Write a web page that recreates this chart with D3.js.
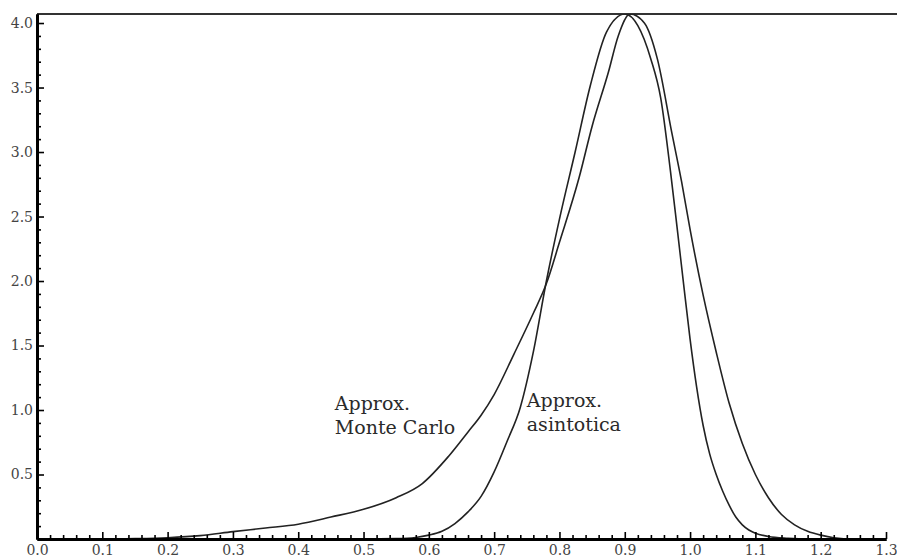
<!DOCTYPE html>
<html lang="en">
<head>
	<meta charset="UTF-8">
	<title>Approx. Monte Carlo vs asintotica</title>
	<style>
		body { margin: 0; background: #fff; }
		.Axis text {
			font-family: "DejaVu Serif", serif;
			font-size: 14px;
			fill: #444;
		}
		.Axis line { stroke: #000; stroke-width: 1.6; }
		.Axis path { stroke: #000; stroke-width: 3; }
		.lbl {
			font-family: "DejaVu Serif", serif;
			font-size: 19px;
			fill: #2a2a2a;
		}
	</style>
	<script src="https://d3js.org/d3.v7.min.js"></script>
</head>
<body>
	<script type="text/javascript">

		// tick labels
		var xTicks = [0.0, 0.1, 0.2, 0.3, 0.4, 0.5, 0.6, 0.7, 0.8, 0.9, 1.0, 1.1, 1.2, 1.3];
		var yTicks = [0.5, 1.0, 1.5, 2.0, 2.5, 3.0, 3.5, 4.0];

		// Approx. Monte Carlo
		var mcX = [0.00, 0.10, 0.15, 0.20, 0.25, 0.30, 0.35, 0.40, 0.45, 0.50, 0.55, 0.59, 0.63, 0.66, 0.68, 0.70, 0.73, 0.76, 0.78,
				   0.80, 0.83, 0.85, 0.875, 0.89, 0.908, 0.93, 0.95, 0.972, 0.987, 1.00, 1.02, 1.04, 1.06, 1.08, 1.10, 1.12, 1.14,
				   1.16, 1.18, 1.20, 1.22, 1.25, 1.30];
		var mcY = [0, 0, 0.003, 0.01, 0.026, 0.057, 0.085, 0.115, 0.17, 0.23, 0.32, 0.43, 0.64, 0.83, 0.96, 1.12, 1.43, 1.75, 1.98,
				   2.3, 2.8, 3.2, 3.62, 3.9, 4.07, 4.0, 3.72, 3.15, 2.77, 2.4, 1.89, 1.45, 1.05, 0.74, 0.5, 0.32, 0.19,
				   0.11, 0.06, 0.03, 0.01, 0, 0];

		// Approx. asintotica
		var asX = [0.00, 0.50, 0.55, 0.58, 0.60, 0.62, 0.64, 0.66, 0.68, 0.70, 0.72, 0.74, 0.76, 0.78, 0.80, 0.824, 0.847, 0.872,
				   0.90, 0.92, 0.94, 0.955, 0.97, 0.98, 0.99, 1.00, 1.01, 1.02, 1.03, 1.04, 1.05, 1.06, 1.07, 1.08, 1.09, 1.10,
				   1.12, 1.15, 1.18, 1.30];
		var asY = [0, 0, 0.003, 0.012, 0.03, 0.06, 0.12, 0.21, 0.33, 0.52, 0.76, 1.02, 1.45, 2.0, 2.48, 3.0, 3.51, 3.93,
				   4.07, 3.98, 3.72, 3.42, 2.85, 2.42, 1.98, 1.55, 1.18, 0.88, 0.66, 0.5, 0.37, 0.26, 0.17, 0.11, 0.07, 0.045,
				   0.02, 0.006, 0, 0];

		var w = 897, h = 560;

		var svg = d3.select("body").append("svg")
			.attr("width", w)
			.attr("height", h);

		var xScale = d3.scaleLinear().domain([0, 1.3]).range([37, 886]);
		var yScale = d3.scaleLinear().domain([0, 4.07]).range([539, 14]);

		// top frame line
		svg.append("line")
		   .attr("x1", 37).attr("x2", w)
		   .attr("y1", yScale(4.07)).attr("y2", yScale(4.07))
		   .attr("stroke", "#333").attr("stroke-width", 2.2);

		svg.append("clipPath").attr("id", "clip")
		   .append("rect")
		   .attr("x", 37).attr("y", yScale(4.07))
		   .attr("width", w - 37).attr("height", yScale(0) - yScale(4.07));

		var line = d3.line()
			.x(d => xScale(d[0]))
			.y(d => yScale(d[1]))
			.curve(d3.curveMonotoneX);

		var series = [d3.zip(mcX, mcY), d3.zip(asX, asY)];
		svg.append("g").attr("clip-path", "url(#clip)")
		   .selectAll("path")
		   .data(series).enter()
		   .append("path")
		   .attr("d", line)
		   .attr("fill", "none")
		   .attr("stroke", "#222")
		   .attr("stroke-width", 1.6);

		// minor ticks
		var xMinor = d3.range(0, 66).map(i => i * 0.02).filter(v => Math.round(v * 50) % 5 !== 0);
		var yMinor = d3.range(1, 41).map(i => i * 0.1).filter(v => Math.round(v * 10) % 5 !== 0);

		svg.append("g")
		   .attr("class", "Axis")
		   .attr("transform", "translate(0," + yScale(0) + ")")
		   .call(d3.axisBottom(xScale).tickValues(xMinor).tickSize(-4).tickSizeOuter(0).tickFormat(""));

		svg.append("g")
		   .attr("class", "Axis")
		   .attr("transform", "translate(0," + yScale(0) + ")")
		   .call(d3.axisBottom(xScale).tickValues(xTicks).tickSize(-7).tickSizeOuter(0).tickPadding(6)
		   		.tickFormat(d3.format(".1f")));

		svg.append("g")
		   .attr("class", "Axis")
		   .attr("transform", "translate(" + xScale(0) + ",0)")
		   .call(d3.axisLeft(yScale).tickValues(yMinor).tickSize(-4).tickSizeOuter(0).tickFormat(""));

		svg.append("g")
		   .attr("class", "Axis")
		   .attr("transform", "translate(" + xScale(0) + ",0)")
		   .call(d3.axisLeft(yScale).tickValues(yTicks).tickSize(-7).tickSizeOuter(0).tickPadding(4)
		   		.tickFormat(d3.format(".1f")));

		// curve labels
		var labels = [
			{ t: ["Approx.", "Monte Carlo"], x: 0.456, y: 1.0 },
			{ t: ["Approx.", "asintotica"], x: 0.75, y: 1.02 }
		];
		labels.forEach(function(l) {
			var txt = svg.append("text").attr("class", "lbl")
				.attr("x", xScale(l.x)).attr("y", yScale(l.y));
			l.t.forEach(function(s, i) {
				txt.append("tspan").attr("x", xScale(l.x)).attr("dy", i === 0 ? 0 : 24).text(s);
			});
		});

	</script>
</body>
</html>
